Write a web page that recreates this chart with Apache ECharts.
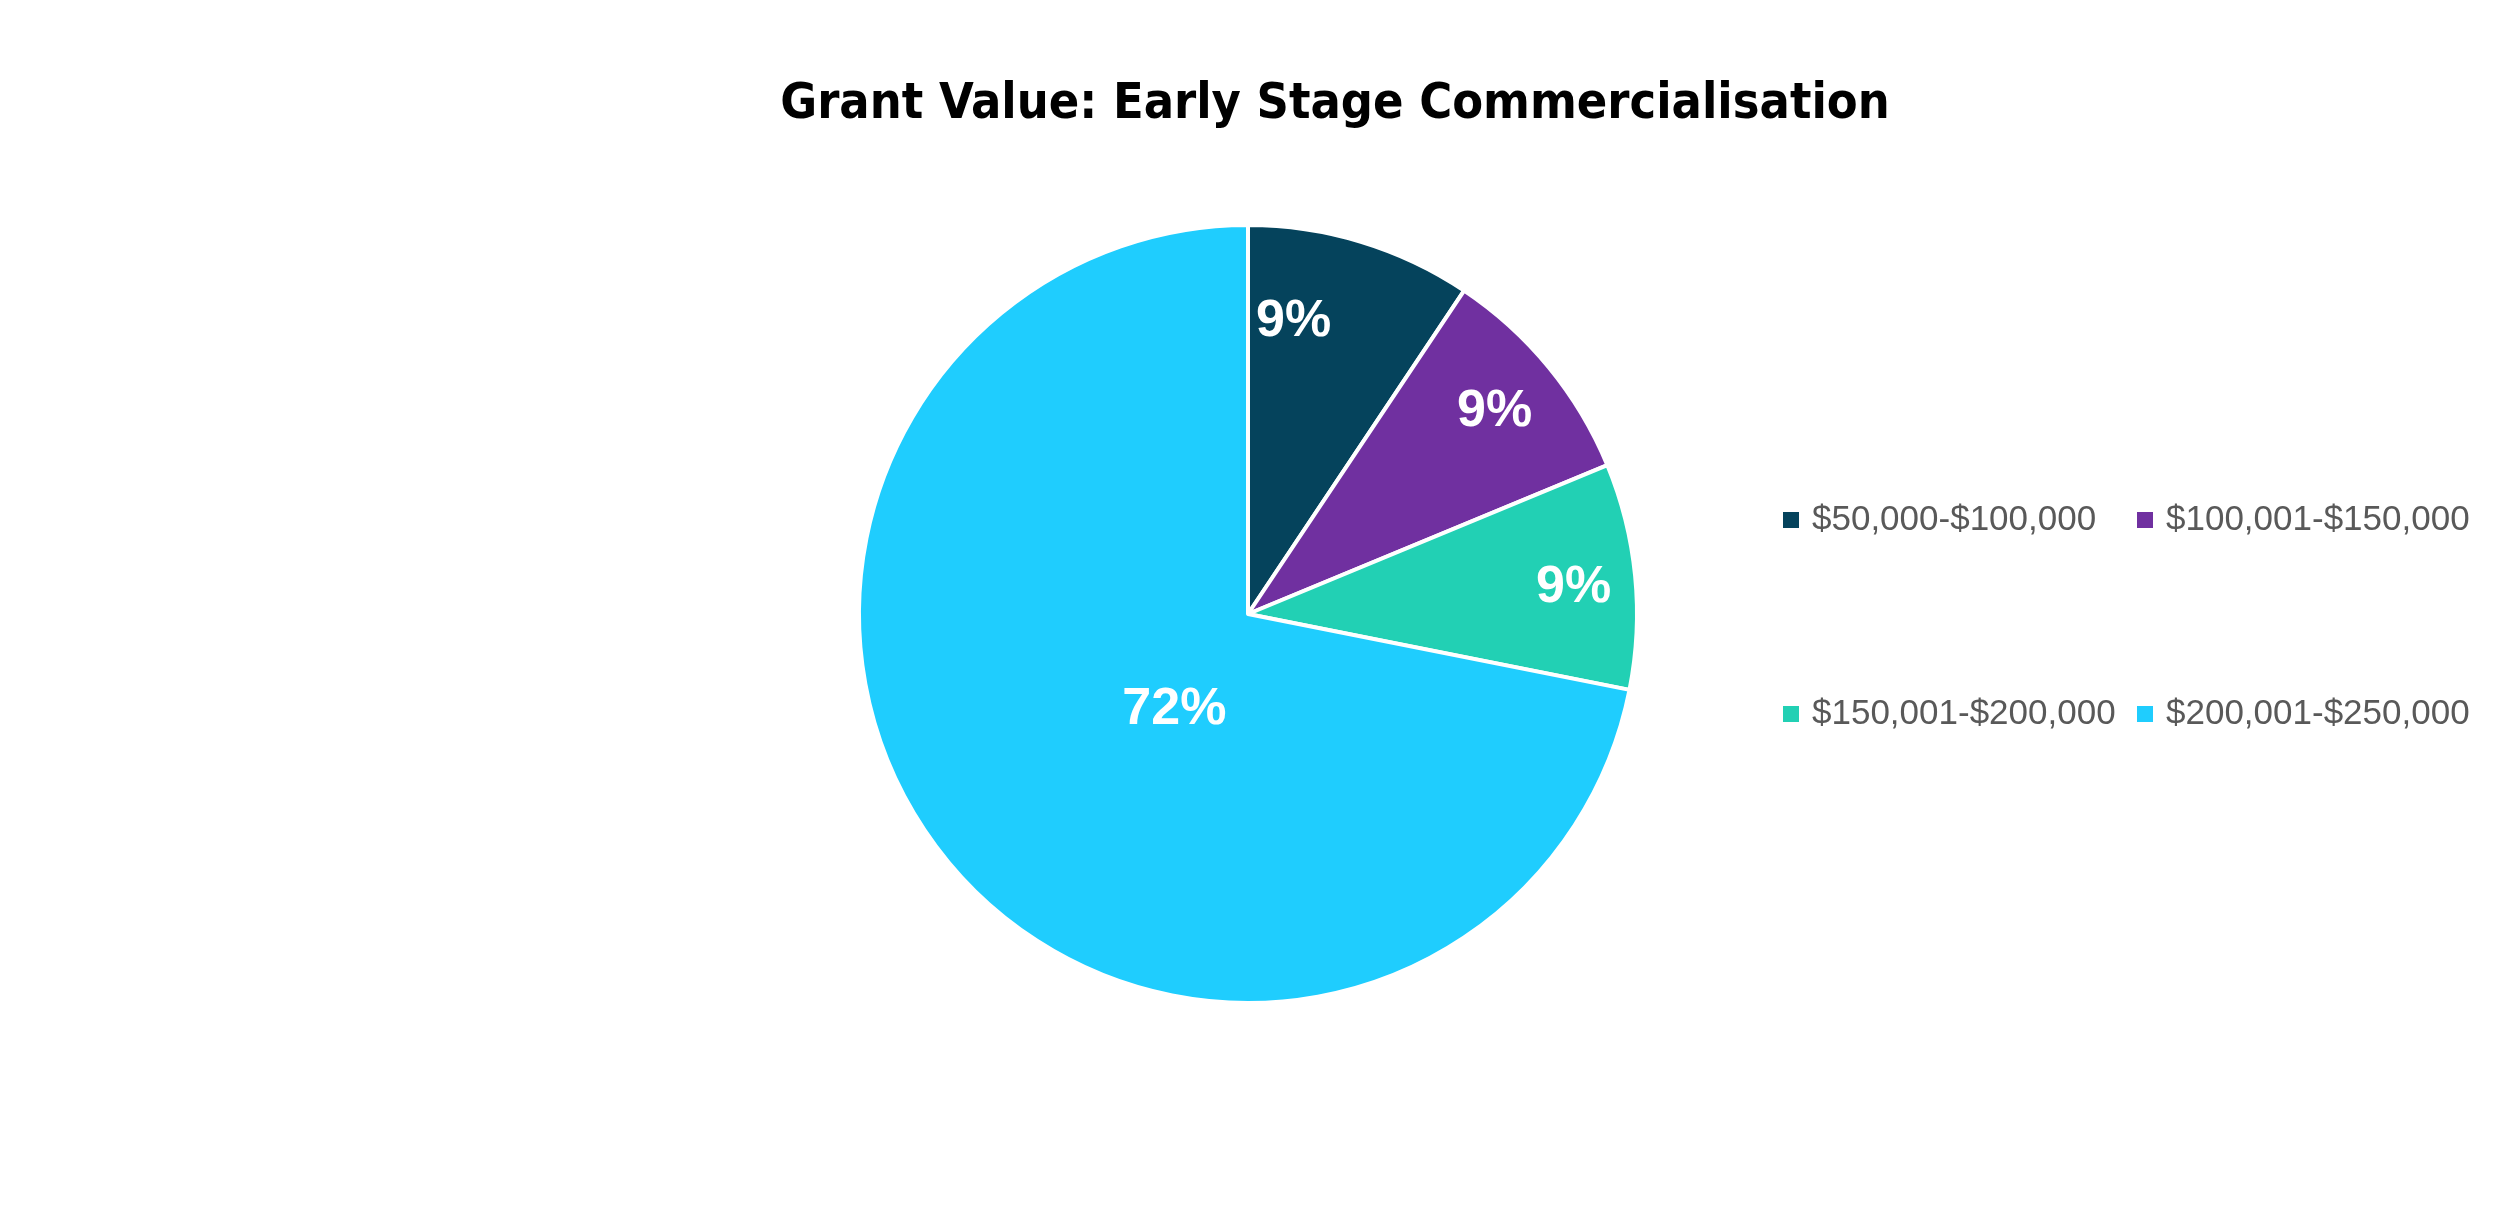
<!DOCTYPE html>
<html>
<head>
<meta charset="utf-8">
<script src="https://cdn.jsdelivr.net/npm/echarts@6/dist/echarts.min.js"></script>
<style>
html,body{margin:0;padding:0;background:#fff;}
#chart{width:2500px;height:1220px;}
</style>
</head>
<body>
<div id="chart"></div>
<script>
const titleText = 'Grant Value: Early Stage Commercialisation';
const categories = ['$50,000-$100,000', '$100,001-$150,000', '$150,001-$200,000', '$200,001-$250,000'];
const values = [3, 3, 3, 23];
const colors = ['#05435C', '#7030A0', '#22D0B4', '#1FCDFE'];
const labelRadiusFrac = [0.76, 0.82, 0.84, 0.31];
const labelAngleShiftDeg = [-8, 0, 1, -13];

const CX = 1248, CY = 614, R = 389;
const total = values.reduce((a, b) => a + b, 0);

const chart = echarts.init(document.getElementById('chart'), null, {renderer: 'canvas'});
const legendCommon = {
  orient: 'horizontal',
  left: 1783,
  padding: 0,
  icon: 'rect',
  itemWidth: 16,
  itemHeight: 16,
  itemGap: 5,
  itemStyle: {borderWidth: 0},
  textStyle: {
    fontFamily: 'Liberation Sans, Arial, sans-serif',
    fontSize: 35,
    color: '#595959',
    width: 320,
    lineHeight: 40,
    padding: [0, 0, 0, 8]
  }
};
chart.setOption({
  backgroundColor: '#ffffff',
  animation: false,
  title: {
    text: titleText,
    left: 1335,
    top: 80,
    textAlign: 'center',
    padding: 0,
    textStyle: {
      fontFamily: 'DejaVu Sans Condensed, Liberation Sans Narrow, sans-serif',
      fontWeight: 'bold',
      fontSize: 50,
      color: '#000000'
    }
  },
  legend: [
    Object.assign({}, legendCommon, {top: 500, data: categories.slice(0, 2)}),
    Object.assign({}, legendCommon, {top: 694, data: categories.slice(2, 4)})
  ],
  series: [{
    type: 'pie',
    center: [CX, CY],
    radius: [0, R],
    startAngle: 90,
    clockwise: true,
    silent: true,
    itemStyle: {borderColor: '#ffffff', borderWidth: 4},
    label: {
      show: true,
      position: 'inside',
      formatter: (p) => Math.round(p.value / total * 100) + '%',
      color: '#ffffff',
      fontFamily: 'Liberation Sans, Arial, sans-serif',
      fontWeight: 'bold',
      fontSize: 52
    },
    labelLine: {show: false},
    labelLayout: function (params) {
      const r = params.labelRect;
      const lx = r.x + r.width / 2, ly = r.y + r.height / 2;
      const dx = lx - CX, dy = ly - CY;
      // angle measured clockwise from 12 o'clock
      const ang = Math.atan2(dx, -dy) + labelAngleShiftDeg[params.dataIndex] * Math.PI / 180;
      const rr = labelRadiusFrac[params.dataIndex] * R;
      return {x: CX + rr * Math.sin(ang), y: CY - rr * Math.cos(ang), align: 'center', verticalAlign: 'middle'};
    },
    data: categories.map((c, i) => ({name: c, value: values[i], itemStyle: {color: colors[i]}}))
  }]
});
</script>
</body>
</html>
